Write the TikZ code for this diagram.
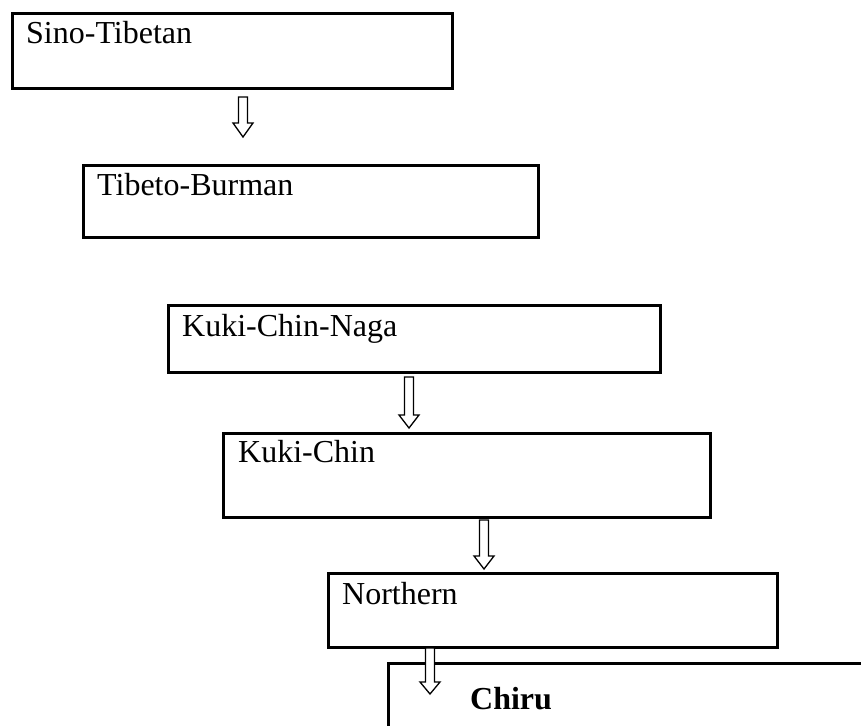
\documentclass[tikz,border=0pt]{standalone}
\usepackage{fontspec}
\setmainfont{Liberation Serif}
\usetikzlibrary{calc}
\tikzset{
  x=1pt,y=-1pt,
  famebox/.style={draw,line width=2.6pt,rectangle,inner sep=0pt,anchor=north west},
  lbl/.style={anchor=base west,inner sep=0pt,font=\fontsize{32}{38}\selectfont},
  blockarrow/.style={draw,line width=1.3pt,fill=white,line join=miter}
}
\newcommand{\downarrowat}[4]{% x, top, headstart, tip
  \draw[blockarrow] ({#1-4.5},#2) -- ({#1+4.5},#2) -- ({#1+4.5},#3) -- ({#1+10},#3) -- (#1,#4) -- ({#1-10},#3) -- ({#1-4.5},#3) -- cycle;}
\begin{document}
\begin{tikzpicture}
\useasboundingbox (0,0) rectangle (861,725);
\clip (0,0) rectangle (861,725);
\fill[white] (0,0) rectangle (861,725);
\node[famebox,minimum width=440pt,minimum height=75pt] (st) at (11,12) {};
\node[lbl] (stt) at ($(st.north west)+(15,32)$) {Sino-Tibetan};
\node[famebox,minimum width=455pt,minimum height=72pt] (tb) at (82,164) {};
\node[lbl] (tbt) at ($(tb.north west)+(15,31)$) {Tibeto-Burman};
\node[famebox,minimum width=492pt,minimum height=67pt] (kcn) at (167,304) {};
\node[lbl] (kcnt) at ($(kcn.north west)+(15,32)$) {Kuki-Chin-Naga};
\node[famebox,minimum width=487pt,minimum height=84pt] (kc) at (222,432) {};
\node[lbl] (kct) at ($(kc.north west)+(16,30)$) {Kuki-Chin};
\node[famebox,minimum width=449pt,minimum height=74pt] (no) at (327,572) {};
\node[lbl] (not) at ($(no.north west)+(15,32)$) {Northern};
\node[famebox,minimum width=560pt,minimum height=120pt] (ch) at (387,662) {};
\node[lbl,font=\fontsize{32}{38}\selectfont\bfseries] (cht) at (470,709) {Chiru};
\downarrowat{243}{97}{123}{137}
\downarrowat{409}{377}{415}{428}
\downarrowat{484}{520}{556}{569}
\downarrowat{430}{648}{682}{694}
\end{tikzpicture}
\end{document}
